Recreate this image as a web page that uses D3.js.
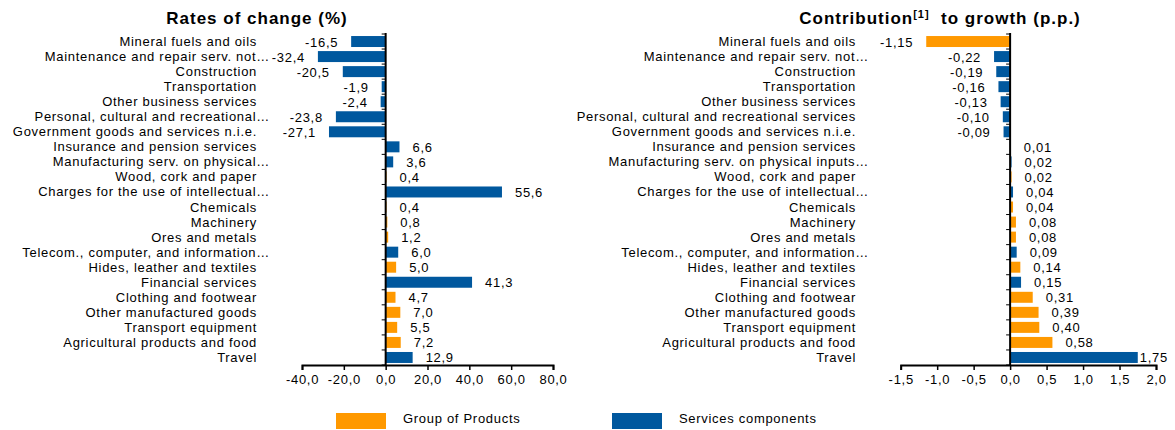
<!doctype html>
<html lang="en">
<head>
  <meta charset="utf-8">
  <title>Rates of change and contribution to growth</title>
  <script src="https://d3js.org/d3.v7.min.js"></script>
  <style>
    body { margin: 0; background: #fff; }
    text { font-family: "Liberation Sans", Arial, sans-serif; fill: #000; }
  </style>
</head>
<body>
  <div id="chart"></div>
  <script type="text/javascript">

    var width = 1175, height = 430;

    var orange = '#FF9900', blue = '#00589E';

    // categories, top to bottom
    var leftLabels = ['Mineral fuels and oils', 'Maintenance and repair serv. not\u2026', 'Construction',
      'Transportation', 'Other business services', 'Personal, cultural and recreational\u2026',
      'Government goods and services n.i.e.', 'Insurance and pension services',
      'Manufacturing serv. on physical\u2026', 'Wood, cork and paper', 'Charges for the use of intellectual\u2026',
      'Chemicals', 'Machinery', 'Ores and metals', 'Telecom., computer, and information\u2026',
      'Hides, leather and textiles', 'Financial services', 'Clothing and footwear',
      'Other manufactured goods', 'Transport equipment', 'Agricultural products and food', 'Travel'];

    var rightLabels = ['Mineral fuels and oils', 'Maintenance and repair serv. not\u2026', 'Construction',
      'Transportation', 'Other business services', 'Personal, cultural and recreational services',
      'Government goods and services n.i.e.', 'Insurance and pension services',
      'Manufacturing serv. on physical inputs\u2026', 'Wood, cork and paper', 'Charges for the use of intellectual\u2026',
      'Chemicals', 'Machinery', 'Ores and metals', 'Telecom., computer, and information\u2026',
      'Hides, leather and textiles', 'Financial services', 'Clothing and footwear',
      'Other manufactured goods', 'Transport equipment', 'Agricultural products and food', 'Travel'];

    // P = group of products, S = services components
    var leftGroup  = ['S','S','S','S','S','S','S','S','S','P','S','P','P','P','S','P','S','P','P','P','P','S'];
    var rightGroup = ['P','S','S','S','S','S','S','S','S','P','S','P','P','P','S','P','S','P','P','P','P','S'];

    var rates = [-16.5, -32.4, -20.5, -1.9, -2.4, -23.8, -27.1, 6.6, 3.6, 0.4, 55.6,
                 0.4, 0.8, 1.2, 6.0, 5.0, 41.3, 4.7, 7.0, 5.5, 7.2, 12.9];

    var contrib = [-1.15, -0.22, -0.19, -0.16, -0.13, -0.10, -0.09, 0.01, 0.02, 0.02, 0.04,
                   0.04, 0.08, 0.08, 0.09, 0.14, 0.15, 0.31, 0.39, 0.40, 0.58, 1.75];

    var rateTicks = [-40, -20, 0, 20, 40, 60, 80];
    var contribTicks = [-1.5, -1.0, -0.5, 0, 0.5, 1.0, 1.5, 2.0];

    var svg = d3.select('#chart')
                .append('svg')
                .attr('width', width)
                .attr('height', height);

    var y = d3.scaleBand()
              .domain(d3.range(leftLabels.length))
              .range([34, 365])
              .paddingInner(0.27)
              .paddingOuter(0.135);

    var colorOf = function(g) { return g === 'P' ? orange : blue; };
    var ls = '0.7px';

    function panel(opts) {
      var x = d3.scaleLinear().domain(opts.domain).range(opts.range);
      var g = svg.append('g');
      var x0 = x(0);
      var fmt = function(v) { return d3.format('.' + opts.digits + 'f')(v).replace('.', ',').replace('\u2212', '-'); };

      // title
      var t = g.append('text')
               .attr('x', opts.titleX).attr('y', 24)
               .attr('text-anchor', 'middle')
               .style('font-size', '17px').style('font-weight', 'bold')
               .style('letter-spacing', '1px');
      opts.title(t);

      // bars
      g.selectAll('.bar')
       .data(opts.values)
       .enter()
       .append('rect')
       .attr('class', 'bar')
       .attr('x', function(d) { return x(Math.min(0, d)); })
       .attr('y', function(d, i) { return y(i); })
       .attr('width', function(d) { return Math.abs(x(d) - x0); })
       .attr('height', y.bandwidth())
       .attr('fill', function(d, i) { return colorOf(opts.group[i]); });

      // value labels
      g.selectAll('.val')
       .data(opts.values)
       .enter()
       .append('text')
       .attr('class', 'val')
       .style('font-size', '13px')
       .style('letter-spacing', ls)
       .attr('y', function(d, i) { return y(i) + y.bandwidth() / 2 + 5; })
       .attr('x', function(d) { return d < 0 ? x(d) - 13 : x(d) + 13; })
       .attr('text-anchor', function(d) { return d < 0 ? 'end' : 'start'; })
       .text(function(d) { return fmt(d); })
       .each(function(d) {
         if (d >= 0) {
           var w = this.getComputedTextLength();
           var px = +d3.select(this).attr('x');
           if (px + w > opts.labelLimit) d3.select(this).attr('x', Math.max(x(d) + 2, opts.labelLimit - w));
         }
       });

      // category labels
      g.selectAll('.cat')
       .data(opts.labels)
       .enter()
       .append('text')
       .attr('class', 'cat')
       .style('font-size', '13px')
       .style('letter-spacing', ls)
       .attr('text-anchor', 'end')
       .attr('x', function(d) { return opts.labelRight + (d.slice(-1) === '\u2026' ? 13 : 0); })
       .attr('y', function(d, i) { return y(i) + y.bandwidth() / 2 + 4.5; })
       .text(function(d) { return d; });

      // x axis
      var axis = g.append('g')
                  .attr('transform', 'translate(0,365)')
                  .call(d3.axisBottom(x).tickValues(opts.ticks).tickSizeInner(5).tickSizeOuter(5)
                        .tickFormat(function(d) { return fmt(d).replace(/,(\d)\d$/, ',$1'); }));
      axis.select('.domain').attr('stroke', '#000').attr('stroke-width', 2);
      axis.selectAll('.tick line').attr('stroke', '#000').attr('stroke-width', 1.5);
      axis.selectAll('.tick text')
          .style('font-size', '13px')
          .style('letter-spacing', ls)
          .style('font-family', '"Liberation Sans", Arial, sans-serif')
          .attr('y', 10);

      // vertical axis at zero with small category ticks
      g.append('line')
       .attr('x1', x0).attr('x2', x0)
       .attr('y1', 33).attr('y2', 366)
       .attr('stroke', '#000').attr('stroke-width', 2);
      var step = y.step();
      g.selectAll('.ytick')
       .data(d3.range(leftLabels.length + 1))
       .enter()
       .append('line')
       .attr('x1', x0 - 4).attr('x2', x0)
       .attr('y1', function(i) { return 34 + i * step; })
       .attr('y2', function(i) { return 34 + i * step; })
       .attr('stroke', '#000').attr('stroke-width', 1);
    }

    panel({
      domain: [-40, 80], range: [302, 553], values: rates, group: leftGroup, labels: leftLabels,
      digits: 1, ticks: rateTicks, labelRight: 257, labelLimit: 600, titleX: 257,
      title: function(t) { t.text('Rates of change (%)'); }
    });

    panel({
      domain: [-1.5, 2.0], range: [900.7, 1156], values: contrib, group: rightGroup, labels: rightLabels,
      digits: 2, ticks: contribTicks, labelRight: 856, labelLimit: 1166, titleX: 940,
      title: function(t) {
        t.append('tspan').text('Contribution');
        t.append('tspan').text('[1]').style('font-size', '11px').attr('dy', -6);
        t.append('tspan').text('\u00a0 to growth (p.p.)').attr('dy', 6);
      }
    });

    // legend
    var legend = [{ name: 'Group of Products', color: orange, x: 336 },
                  { name: 'Services components', color: blue, x: 612 }];
    var lg = svg.selectAll('.legend')
                .data(legend)
                .enter()
                .append('g')
                .attr('class', 'legend');
    lg.append('rect')
      .attr('x', function(d) { return d.x; })
      .attr('y', 413)
      .attr('width', 50).attr('height', 16)
      .attr('fill', function(d) { return d.color; });
    lg.append('text')
      .attr('x', function(d) { return d.x + 52 + 15; })
      .attr('y', 423)
      .style('font-size', '13px')
      .style('letter-spacing', ls)
      .text(function(d) { return d.name; });

  </script>
</body>
</html>
